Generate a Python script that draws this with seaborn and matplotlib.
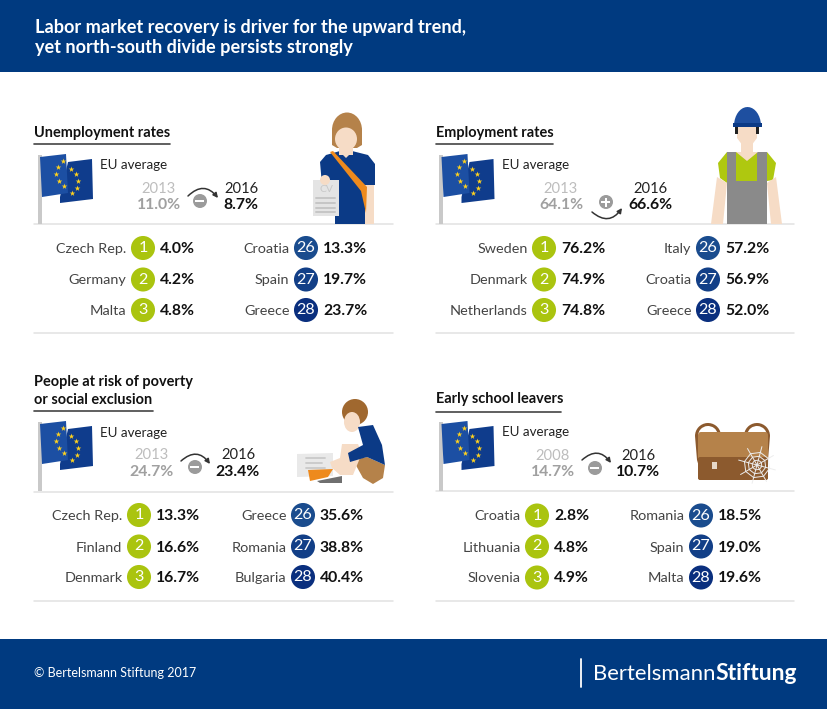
import matplotlib
matplotlib.use('Agg')
import matplotlib.pyplot as plt
from matplotlib.patches import Polygon, Rectangle, Ellipse, Circle, Wedge, FancyArrowPatch, FancyBboxPatch
import numpy as np
import pandas as pd
import seaborn as sns

# chart values
ranks = [1, 2, 3, 26, 27, 28]

unemp_names = ['Czech Rep.', 'Germany', 'Malta', 'Croatia', 'Spain', 'Greece']
unemp_vals = ['4.0%', '4.2%', '4.8%', '13.3%', '19.7%', '23.7%']
emp_names = ['Sweden', 'Denmark', 'Netherlands', 'Italy', 'Croatia', 'Greece']
emp_vals = ['76.2%', '74.9%', '74.8%', '57.2%', '56.9%', '52.0%']
poverty_names = ['Czech Rep.', 'Finland', 'Denmark', 'Greece', 'Romania', 'Bulgaria']
poverty_vals = ['13.3%', '16.6%', '16.7%', '35.6%', '38.8%', '40.4%']
school_names = ['Croatia', 'Lithuania', 'Slovenia', 'Romania', 'Spain', 'Malta']
school_vals = ['2.8%', '4.8%', '4.9%', '18.5%', '19.0%', '19.6%']

unemp_avg = ['2013', '11.0%', '2016', '8.7%']
emp_avg = ['2013', '64.1%', '2016', '66.6%']
poverty_avg = ['2013', '24.7%', '2016', '23.4%']
school_avg = ['2008', '14.7%', '2016', '10.7%']

NAVY = '#003A80'
SKIN = '#F6DCC6'
TAN = '#B5824A'
BROWN = '#8C5A2E'
BLUE = '#0B3A86'
GREEN = '#AFC80F'
rank_colors = {1: '#AAC40F', 2: '#AAC40F', 3: '#AAC40F', 26: '#1A4C8E', 27: '#123F87', 28: '#0A2F7E'}

sns.set_theme(style='white')
plt.rcParams['font.family'] = ['Lato', 'DejaVu Sans']

fig = plt.figure(figsize=(8.28, 7.09), dpi=100)
ax = fig.add_axes([0, 0, 1, 1])
ax.set_xlim(0, 828)
ax.set_ylim(709, 0)
ax.axis('off')


def txt(x, y, s, size=11, color='#333333', weight='normal', ha='left', **kw):
    ax.text(x, y, s, fontsize=size, color=color, fontweight=weight, ha=ha, va='center', **kw)


def poly(pts, color, z=3):
    ax.add_patch(Polygon(pts, closed=True, facecolor=color, edgecolor='none', zorder=z))


def draw_flag(dx, dy):
    ax.add_patch(Rectangle((38 + dx, 155 + dy), 4, 69, color='#C9C9C9', lw=0, zorder=3))
    poly([(60 + dx, 197 + dy), (68 + dx, 162 + dy), (92 + dx, 159 + dy), (93 + dx, 199 + dy), (60 + dx, 203 + dy)], '#0F3C8C')
    poly([(40 + dx, 157 + dy), (66 + dx, 154 + dy), (68 + dx, 193 + dy), (42 + dx, 197 + dy)], '#1C4FA3')
    sx = np.array([63, 58, 56, 59, 64, 72, 77, 78, 76, 71]) + dx
    sy = np.array([161, 167, 174, 181, 186, 193, 188, 181, 174, 169]) + dy
    ax.scatter(sx, sy, marker='*', s=18, color='#FFD21E', linewidths=0, zorder=4)


def draw_arrow(start, end, icon, sign):
    rad = -0.55 if sign == '-' else 0.55
    ax.add_patch(FancyArrowPatch(start, end, connectionstyle='arc3,rad=%s' % rad, shrinkA=0, shrinkB=0,
                                 arrowstyle='-|>', mutation_scale=7, lw=1.1, color='#333333', zorder=3))
    ax.add_patch(Circle(icon, 7, color='#9B9B9B', lw=0, zorder=4))
    ax.add_patch(Rectangle((icon[0] - 4.5, icon[1] - 1.2), 9, 2.4, color='white', lw=0, zorder=5))
    if sign == '+':
        ax.add_patch(Rectangle((icon[0] - 1.2, icon[1] - 4.5), 2.4, 9, color='white', lw=0, zorder=5))


def draw_panel(title_lines, title_x, title_ys, rule_y, rule_end, flag_off, eu_y, avg, years_x, year_y, val_y,
               arrow, div_top, div_bot, right):
    for line, y in zip(title_lines, title_ys):
        txt(title_x, y + 1, line, size=10.45, color='#111111', weight='bold')
    ax.plot([title_x, rule_end], [rule_y, rule_y], color='#444444', lw=1.2, zorder=2)
    draw_flag(*flag_off)
    txt(title_x + 66, eu_y + 1, 'EU average', size=9.6, color='#222222')
    ax.text(years_x[0], year_y + 1, avg[0], fontsize=10.6, color='#BDBDBD', ha='center', va='center')
    ax.text(years_x[0], val_y + 1, avg[1], fontsize=11.3, color='#A0A0A0', ha='center', va='center', fontweight='bold')
    ax.text(years_x[1], year_y + 1, avg[2], fontsize=10.6, color='#222222', ha='center', va='center')
    ax.text(years_x[1], val_y + 1, avg[3], fontsize=11.3, color='#111111', ha='center', va='center', fontweight='bold')
    draw_arrow(*arrow)
    for y in (div_top, div_bot):
        ax.plot([title_x, right], [y, y], color='#E2E2E2', lw=1.1, zorder=2)


def draw_ranks(names, vals, cx1, cx2, ys):
    frame = pd.DataFrame({'rank': ranks, 'name': names, 'value': vals,
                          'x': [cx1] * 3 + [cx2] * 3, 'y': list(ys) * 2})
    sns.scatterplot(data=frame, x='x', y='y', hue='rank', palette=rank_colors, s=300, linewidth=0,
                    legend=False, ax=ax, zorder=5)
    for row in frame.itertuples():
        ax.text(row.x, row.y, str(row.rank), fontsize=11.6, color='white', ha='center', va='center', zorder=6)
        ax.text(row.x - 16.5, row.y + 1, row.name, fontsize=10.4, color='#444444', ha='right', va='center')
        ax.text(row.x + 17, row.y + 1, row.value, fontsize=11.3, color='#111111', ha='left', va='center', fontweight='bold')


def draw_woman():
    ax.add_patch(Ellipse((347, 130), 30, 35, color=TAN, lw=0, zorder=3))
    poly([(332, 130), (362, 130), (362, 145), (357, 148), (337, 148), (332, 145)], TAN)
    ax.add_patch(Ellipse((346, 139), 22, 23, color=SKIN, lw=0, zorder=4))
    poly([(339, 146), (353, 146), (353, 155), (339, 155)], SKIN, 4)
    poly([(320, 162), (326, 155), (340, 151), (352, 151), (368, 155), (375, 164), (375, 185), (365, 185), (365, 224),
          (335, 224), (335, 185), (322, 185)], BLUE, 3)
    poly([(339, 151), (353, 151), (346, 158)], SKIN, 4)
    poly([(365, 185), (374, 185), (374, 224), (365, 224)], SKIN, 3)
    poly([(330, 152), (333, 151), (367, 187), (366, 213), (361, 191)], '#EE8A1D', 5)
    poly([(313, 180), (339, 180), (339, 216), (313, 216)], '#E4E4E4', 5)
    ax.text(326, 189, 'CV', fontsize=7.5, color='#C8C8C8', ha='center', va='center', zorder=6)
    for y in (198, 203, 208, 212):
        ax.plot([316, 335], [y, y], color='#C6C6C6', lw=1.4, zorder=6)
    ax.add_patch(Circle((325, 180), 5, color=SKIN, lw=0, zorder=6))


def draw_worker():
    # hard hat: upper half of an ellipse
    a = np.radians(np.arange(180, 361, 10))
    poly(np.c_[747.5 + 13.5 * np.cos(a), 126 + 19 * np.sin(a)], '#1E4FA0', 5)
    poly([(733, 123), (762, 123), (762, 127), (733, 127)], BLUE, 6)
    poly([(737, 127), (757, 127), (757, 138), (751, 146), (743, 146), (737, 138)], SKIN, 4)
    poly([(735, 127), (738, 127), (738, 134), (735, 134)], '#222222', 5)
    poly([(756, 127), (759, 127), (759, 134), (756, 134)], '#222222', 5)
    poly([(741, 142), (753, 142), (753, 152), (741, 152)], SKIN, 4)
    poly([(718, 163), (727, 152), (767, 152), (776, 163), (773, 180), (767, 181), (727, 183), (720, 178)], GREEN, 3)
    poly([(736, 152), (758, 152), (747, 161)], SKIN, 5)
    poly([(727, 152), (736, 152), (736, 181), (757, 181), (757, 152), (767, 152), (767, 224), (727, 224)], '#8A8A8A', 4)
    poly([(717, 177), (727, 183), (723, 224), (711, 224)], SKIN, 3)
    poly([(767, 183), (776, 177), (782, 224), (771, 224)], SKIN, 3)


def draw_boy():
    ax.add_patch(Circle((355, 412), 13, color='#A0682F', lw=0, zorder=3))
    ax.add_patch(Ellipse((352, 422), 16, 20, color=SKIN, lw=0, zorder=4))
    poly([(358, 427), (373, 425), (382, 445), (385, 465), (367, 457), (350, 462), (348, 453), (363, 445)], BLUE, 4)
    poly([(353, 460), (367, 457), (385, 465), (383, 478), (373, 484), (363, 478)], TAN, 3)
    poly([(342, 444), (358, 444), (362, 453), (353, 475), (340, 475), (332, 468), (330, 462), (340, 458)], SKIN, 3)
    poly([(297, 454), (333, 453), (333, 476), (297, 477)], '#E9E9E9', 2)
    for y, end in ((458, 325), (463, 322), (468, 325)):
        ax.plot([306, end], [y, y], color='#C9C9C9', lw=1.3, zorder=2.5)
    poly([(308, 470), (333, 469), (328, 477), (310, 481)], '#EE8A1D', 5)
    poly([(317, 481), (342, 476), (342, 483), (320, 483)], '#6F6F6F', 4)


def draw_bag():
    ax.add_patch(Wedge((708, 436), 13, 180, 350, width=3, color=BROWN, lw=0, zorder=3))
    ax.add_patch(Wedge((757, 436), 13, 190, 360, width=3, color=BROWN, lw=0, zorder=3))
    poly([(695, 436), (698, 436), (700, 470), (697, 460)], BROWN, 3)
    poly([(767, 436), (770, 436), (768, 460), (765, 470)], BROWN, 3)
    ax.add_patch(FancyBboxPatch((698, 432), 70, 48, boxstyle='round,pad=0,rounding_size=3', fc=TAN, ec='none', zorder=3))
    ax.add_patch(FancyBboxPatch((698, 457), 70, 23, boxstyle='round,pad=0,rounding_size=2', fc=BROWN, ec='none', zorder=4))
    poly([(712, 462), (717, 462), (717, 469), (712, 469)], '#E6D8C8', 5)
    # cobweb in the bag corner
    cx, cy = 757, 465
    for ang in np.arange(0, 360, 45):
        a = np.radians(ang + 15)
        ax.plot([cx, cx + 19 * np.cos(a)], [cy, cy + 19 * np.sin(a)], color='#EDEDED', lw=0.7, zorder=6)
    for r in (5, 9, 13):
        a = np.radians(np.arange(15, 376, 45))
        ax.plot(cx + r * np.cos(a), cy + r * np.sin(a), color='#EDEDED', lw=0.7, zorder=6)


# header and footer bands
ax.add_patch(Rectangle((0, 0), 828, 72, color=NAVY, lw=0))
ax.add_patch(Rectangle((0, 639), 828, 70, color=NAVY, lw=0))
txt(35, 27, 'Labor market recovery is driver for the upward trend,', size=13.1, color='white', weight='bold')
txt(35, 47.5, 'yet north-south divide persists strongly', size=13.1, color='white', weight='bold')
txt(34, 673, '\u00a9 Bertelsmann Stiftung 2017', size=9.0, color='white')
ax.plot([581, 581], [659, 687], color='white', lw=1.3)
logo = ax.text(593, 674, 'Bertelsmann', fontsize=15.9, color='white', va='center')
ax.annotate('Stiftung', xycoords=logo, xy=(1, 0.5), va='center', fontsize=16.5, color='white', fontweight='bold')

draw_panel(['Unemployment rates'], 34, [132], 144, 170, (0, 0), 164, unemp_avg, (159, 241), 188, 204,
           ((188, 196), (218, 198), (200, 201), '-'), 224, 333, 393)
draw_panel(['Employment rates'], 436, [132], 144, 553, (401.5, 0), 164, emp_avg, (561, 650), 188, 204,
           ((592, 212), (622, 208), (606, 202), '+'), 224, 333, 794)
draw_panel(['People at risk of poverty', 'or social exclusion'], 34, [381, 399], 411, 153, (0, 267), 432, poverty_avg,
           (152, 238), 454, 471, ((181, 461), (210, 464), (195, 467), '-'), 492, 601, 393)
draw_panel(['Early school leavers'], 436, [398], 412, 561, (401.5, 267), 431.5, school_avg, (553, 638), 455, 471,
           ((582, 460), (611, 463), (595, 468), '-'), 491, 601, 794)

draw_ranks(unemp_names, unemp_vals, 143, 306, (248, 279.5, 310))
draw_ranks(emp_names, emp_vals, 544, 708, (248, 279.5, 310))
draw_ranks(poverty_names, poverty_vals, 139, 303, (515, 546.5, 577))
draw_ranks(school_names, school_vals, 537, 701, (515.5, 546.5, 577.5))

draw_woman()
draw_worker()
draw_boy()
draw_bag()

ax.set_xlabel('')
ax.set_ylabel('')
ax.set_xlim(0, 828)
ax.set_ylim(709, 0)
fig.savefig('out.png', dpi=100)
